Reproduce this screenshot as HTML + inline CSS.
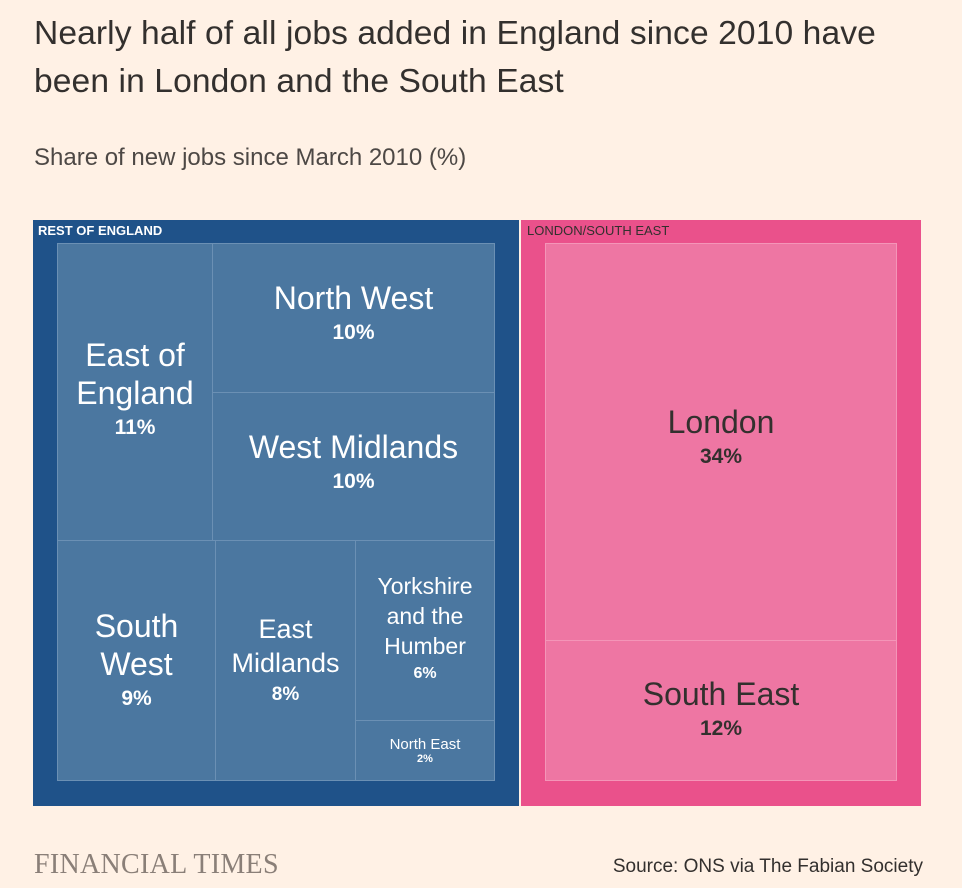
<!DOCTYPE html>
<html><head><meta charset="utf-8"><style>
body{margin:0;width:962px;height:888px;background:#fff1e5;font-family:"Liberation Sans",sans-serif;position:relative;overflow:hidden}
.a{position:absolute}
.t{left:34px;top:10px;font-size:33.6px;line-height:48px;color:#33302e;letter-spacing:0.1px}
.s{left:34px;top:144px;font-size:24px;color:#4d4845}
.c{position:absolute;display:flex;flex-direction:column;align-items:center;justify-content:center;text-align:center;color:#fff;box-sizing:border-box;background:#4b77a0;border:1px solid #6b90b4}
.p{background:#ee76a3;border-color:#f495b8;color:#33302e}
.n{font-size:32px;line-height:38px}
.v{font-size:21px;font-weight:bold;margin-top:4px}
</style></head><body>
<div class="a t">Nearly half of all jobs added in England since 2010 have<br>been in London and the South East</div>
<div class="a s">Share of new jobs since March 2010 (%)</div>
<div class="a" style="left:33px;top:220px;width:486px;height:586px;background:#1f5289"></div>
<div class="a" style="left:38px;top:223px;font-size:13px;font-weight:bold;color:#fff">REST OF ENGLAND</div>
<div class="a" style="left:521px;top:220px;width:400px;height:586px;background:#ea518b"></div>
<div class="a" style="left:527px;top:223px;font-size:13px;color:#33302e">LONDON/SOUTH EAST</div>

<div class="c" style="left:57px;top:243px;width:156px;height:298px;padding-bottom:8px"><div class="n">East of<br>England</div><div class="v">11%</div></div>
<div class="c" style="left:212px;top:243px;width:283px;height:150px;padding-bottom:12px"><div class="n">North West</div><div class="v">10%</div></div>
<div class="c" style="left:212px;top:392px;width:283px;height:149px;padding-bottom:12px"><div class="n">West Midlands</div><div class="v">10%</div></div>
<div class="c" style="left:57px;top:540px;width:159px;height:241px;padding-bottom:4px"><div class="n">South<br>West</div><div class="v">9%</div></div>
<div class="c" style="left:215px;top:540px;width:141px;height:241px;padding-bottom:4px"><div class="n" style="font-size:27px;line-height:34px">East<br>Midlands</div><div class="v" style="font-size:19px">8%</div></div>
<div class="c" style="left:355px;top:540px;width:140px;height:181px;padding-bottom:8px"><div class="n" style="font-size:23px;line-height:30px">Yorkshire<br>and the<br>Humber</div><div class="v" style="font-size:16px">6%</div></div>
<div class="c" style="left:355px;top:720px;width:140px;height:61px"><div style="font-size:15px">North East</div><div style="font-size:11px;font-weight:bold">2%</div></div>

<div class="c p" style="left:545px;top:243px;width:352px;height:398px;padding-bottom:12px"><div class="n">London</div><div class="v">34%</div></div>
<div class="c p" style="left:545px;top:640px;width:352px;height:141px;padding-bottom:6px"><div class="n">South East</div><div class="v">12%</div></div>

<div class="a" style="left:34px;top:849px;font-family:'Liberation Serif',serif;font-size:28px;color:#8a7f78;letter-spacing:0.3px">FINANCIAL TIMES</div>
<div class="a" style="right:39px;top:856px;font-size:19px;color:#33302e">Source: ONS via The Fabian Society</div>
</body></html>
